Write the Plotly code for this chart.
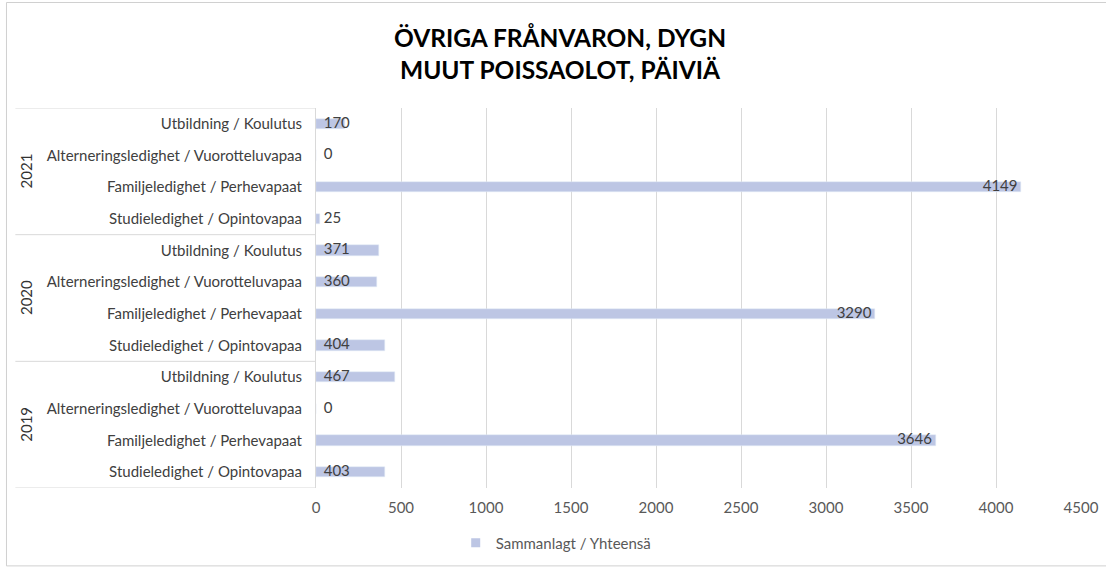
import plotly.graph_objects as go

# categories within each year, bottom to top
categories = [
    "Studieledighet / Opintovapaa",
    "Familjeledighet / Perhevapaat",
    "Alterneringsledighet / Vuorotteluvapaa",
    "Utbildning / Koulutus",
]
years = ["2019", "2020", "2021"]

values_2019 = [403, 3646, 0, 467]
values_2020 = [404, 3290, 360, 371]
values_2021 = [25, 4149, 0, 170]

x_ticks = [0, 500, 1000, 1500, 2000, 2500, 3000, 3500, 4000, 4500]

values = values_2019 + values_2020 + values_2021
labels = categories * len(years)
pos = list(range(len(values)))

bar_color = "#BDC6E4"
grid_color = "#D9D9D9"
text_color = "#595959"
font_family = "Lato"
nb = "\u00a0"

fig = go.Figure()
fig.add_trace(go.Bar(
    x=values, y=pos, orientation="h",
    width=0.33, marker_color=bar_color,
    showlegend=False,
))
# legend entry with a small square like the original
fig.add_trace(go.Scatter(
    x=[None], y=[None], mode="markers",
    marker=dict(symbol="square", size=9, color=bar_color),
    name="Sammanlagt / Yhteensä",
))

# data labels: inside end when they fit, else just right of the axis
big = [v > 1000 for v in values]
fig.add_trace(go.Scatter(
    x=[v if b else 0 for v, b in zip(values, big)],
    y=pos, mode="text",
    text=[(str(v) + nb) if b else (nb * 2 + str(v)) for v, b in zip(values, big)],
    textposition=["middle left" if b else "middle right" for b in big],
    textfont=dict(size=15, color="#404040", family=font_family),
    showlegend=False, hoverinfo="skip",
))

# year labels and the group dividers on the category axis
for i, yr in enumerate(years):
    mid = i * 4 + 1.5
    fig.add_annotation(
        x=-0.379, xref="paper", xanchor="center", y=mid, yref="y", text=yr,
        textangle=-90, showarrow=False,
        font=dict(size=15, color="#333333", family=font_family),
    )
for k in range(len(years) + 1):
    yb = k * 4 - 0.5
    fig.add_shape(type="line", xref="paper", yref="y",
                  x0=-0.393, x1=0, y0=yb, y1=yb,
                  line=dict(color=grid_color, width=1))

# outer chart frame (left, top, bottom; right side runs off the image)
fig.add_shape(type="path", xref="paper", yref="paper",
              path="M 1.2,1.2776 L -0.4046,1.2776 L -0.4046,-0.205 L 1.2,-0.205",
              line=dict(color="#D0D0D0", width=1))

fig.update_layout(
    width=1106, height=567,
    margin=dict(l=316, r=25, t=108, b=79, autoexpand=False),
    paper_bgcolor="white", plot_bgcolor="white",
    font=dict(family=font_family, color=text_color, size=15),
    title=dict(
        text="ÖVRIGA FRÅNVARON, DYGN<br>MUUT POISSAOLOT, PÄIVIÄ",
        x=560 / 1106, xanchor="center", xref="container",
        y=1 - 47 / 567, yanchor="middle", yref="container",
        font=dict(size=24.5, color="black", family=font_family, weight="bold"),
    ),
    xaxis=dict(
        range=[0, 4500], tickvals=x_ticks, showgrid=True,
        gridcolor=grid_color, gridwidth=1, zeroline=False,
        showline=False, ticks="", ticklabelstandoff=9,
        tickfont=dict(size=15, color=text_color),
    ),
    yaxis=dict(
        range=[-0.5, 11.5], tickvals=pos, ticktext=labels,
        showgrid=False, zeroline=False, showline=True,
        linecolor=grid_color, ticks="", ticklabelstandoff=10,
        tickfont=dict(size=15, color="#404040"),
    ),
    showlegend=True,
    legend=dict(
        orientation="h", x=0.314, xanchor="center",
        y=-0.145, yanchor="middle",
        font=dict(size=15, color=text_color),
        itemwidth=30,
    ),
    bargap=0,
)

fig.write_html("out.html", config={"displayModeBar": False},
               post_script="document.body.style.margin='0';")
